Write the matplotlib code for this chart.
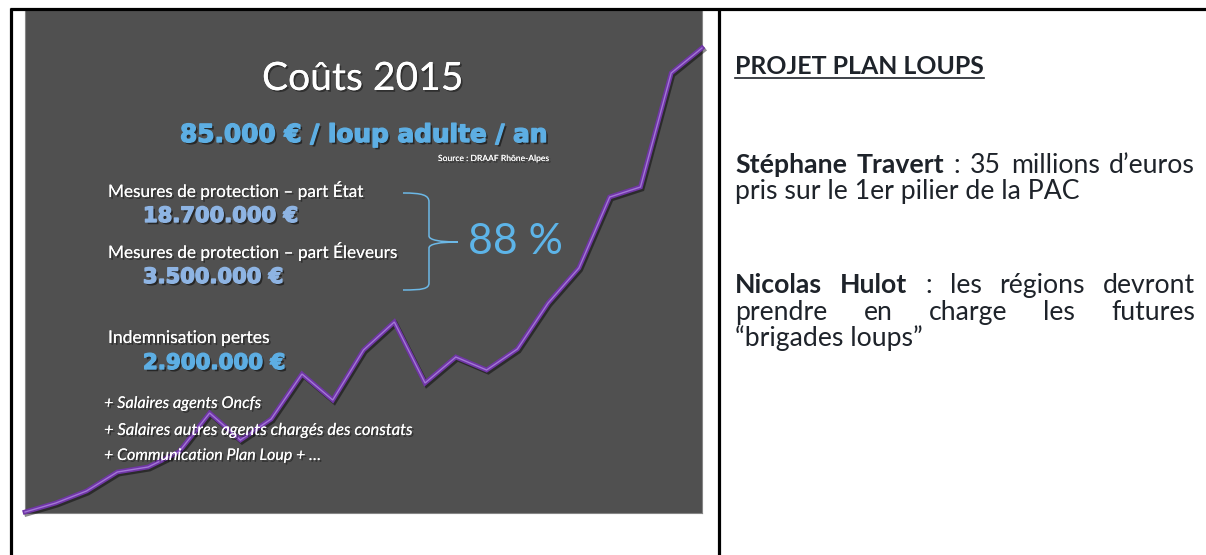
import matplotlib
matplotlib.use("Agg")
import matplotlib.pyplot as plt
import matplotlib.patheffects as pe
from matplotlib.path import Path
from matplotlib.patches import PathPatch

# ---- data ----
years = list(range(1995, 2018))
values = [1, 10, 22, 41, 46, 61, 100, 73, 94, 139, 113, 163, 191,
          130, 156, 143, 164, 210, 245, 316, 326, 440, 465]

slide_title = "Coûts 2015"
headline = "85.000 € / loup adulte / an"
source = "Source : DRAAF Rhône-Alpes"
cost_labels = ["Mesures de protection – part État",
               "Mesures de protection – part Éleveurs",
               "Indemnisation pertes"]
cost_values = ["18.700.000 €", "3.500.000 €", "2.900.000 €"]
share_text = "88 %"
extras = ["+ Salaires agents Oncfs",
          "+ Salaires autres agents chargés des constats",
          "+ Communication Plan Loup + …"]

W, H = 1206, 555
fig = plt.figure(figsize=(W / 100, H / 100), dpi=100)
fig.patch.set_facecolor("white")

# chart panel
x0, x1, ytop, ybot = 25, 702, 10, 513
ax = fig.add_axes([x0 / W, (H - ybot) / H, (x1 - x0) / W, (ybot - ytop) / H])
ax.set_facecolor("#505050")
for s in ax.spines.values():
    s.set_color("#858585")
    s.set_linewidth(0.8)
ax.set_xticks([])
ax.set_yticks([])
ax.set_xlim(years[0], years[-1])
ax.set_ylim(0, ybot - ytop)
ax.plot(years, values, color="#7036A6", lw=3.4, solid_joinstyle="miter",
        clip_on=False, zorder=3,
        path_effects=[pe.SimpleLineShadow(offset=(1.2, -1.5), shadow_color="black", alpha=0.45),
                      pe.Normal()])
ax.plot(years, values, color="#A276D6", lw=1.0, clip_on=False, zorder=4,
        solid_joinstyle="miter")

# overlay in pixel coordinates
ov = fig.add_axes([0, 0, 1, 1], zorder=10)
ov.set_xlim(0, W)
ov.set_ylim(H, 0)
ov.axis("off")
ov.patch.set_alpha(0)

# frame lines
ov.plot([10, W], [8.5, 8.5], color="black", lw=2.3, solid_capstyle="butt")
ov.plot([11, 11], [7.5, H], color="black", lw=2.3, solid_capstyle="butt")
ov.plot([719, 719], [7.5, H], color="black", lw=2.3, solid_capstyle="butt")

fig.canvas.draw()
renderer = fig.canvas.get_renderer()

shadow = [pe.withSimplePatchShadow(offset=(1.3, -1.3), shadow_rgbFace="black", alpha=0.4), pe.Normal()]


def heavy(col):
    return [pe.withSimplePatchShadow(offset=(1.6, -1.6), shadow_rgbFace="black", alpha=0.5),
            pe.withStroke(linewidth=1.0, foreground=col)]


def measure(t):
    return t.get_window_extent(renderer).width


def fit(x, y, s, width, **kw):
    t = ov.text(x, y, s, fontsize=10, va="baseline", **kw)
    t.set_fontsize(10 * width / measure(t))
    return t


# slide texts
fit(262, 90, slide_title, 202, family="Lato", color="white", path_effects=shadow)
fit(180, 142, headline, 368, family="DejaVu Sans", weight="bold", color="#5DAEE3",
    path_effects=heavy("#5DAEE3"))
fit(438, 161, source, 111, family="Lato", color="white", path_effects=shadow)

label_pos = [(108, 197, 256), (108, 258, 290), (108, 343, 162)]
value_pos = [(143, 222, 155), (143, 283, 140), (143, 369, 142)]
value_cols = ["#8EB4E3", "#8EB4E3", "#5DAEE3"]
for (lx, ly, lw_), s in zip(label_pos, cost_labels):
    fit(lx, ly, s, lw_, family="Lato", color="white", path_effects=shadow)
for (vx, vy, vw), s, c in zip(value_pos, cost_values, value_cols):
    fit(vx, vy, s, vw, family="DejaVu Sans", weight="bold", color=c, path_effects=heavy(c))

extra_pos = [(104, 408, 157), (104, 435, 308), (104, 460, 217)]
for (ex, ey, ew), s in zip(extra_pos, extras):
    fit(ex, ey, s, ew, family="Lato", style="italic", color="white", path_effects=shadow)

fit(468, 254, share_text, 94, family="Lato", weight="normal", color="#5DB4E8")

# brace
verts = [(403, 193), (422, 193), (429, 195), (429, 202),
         (429, 236),
         (429, 240), (440, 242), (458, 242),
         (440, 242), (429, 244), (429, 248),
         (429, 283),
         (429, 289), (422, 290), (403, 290)]
codes = [Path.MOVETO, Path.CURVE4, Path.CURVE4, Path.CURVE4,
         Path.LINETO,
         Path.CURVE4, Path.CURVE4, Path.CURVE4,
         Path.CURVE4, Path.CURVE4, Path.CURVE4,
         Path.LINETO,
         Path.CURVE4, Path.CURVE4, Path.CURVE4]
ov.add_patch(PathPatch(Path(verts, codes), facecolor="none", edgecolor="#6CB8E6", lw=1.1))

# right panel
txt_col = "#1E232A"
t = fit(735, 74, "PROJET PLAN LOUPS", 249, family="Lato", weight="bold", color=txt_col)
ov.plot([735, 984], [78, 78], color=txt_col, lw=1.2)

ref = fit(735, 199, "pris sur le 1er pilier de la PAC", 345, family="Lato", color=txt_col)
fs = ref.get_fontsize()


def justify(y, words, xa, xb):
    arts = []
    for w, bold in words:
        a = ov.text(0, y, w, fontsize=fs, family="Lato", va="baseline",
                    weight="bold" if bold else "normal", color=txt_col)
        arts.append(a)
    widths = [measure(a) for a in arts]
    gap = (xb - xa - sum(widths)) / (len(arts) - 1)
    x = xa
    for a, w in zip(arts, widths):
        a.set_x(x)
        x += w + gap


justify(173, [("Stéphane", True), ("Travert", True), (":", False), ("35", False),
              ("millions", False), ("d’euros", False)], 735, 1195)
justify(293, [("Nicolas", True), ("Hulot", True), (":", False), ("les", False),
              ("régions", False), ("devront", False)], 735, 1195)
justify(320, [("prendre", False), ("en", False), ("charge", False), ("les", False),
              ("futures", False)], 735, 1195)
ov.text(735, 346, "“brigades loups”", fontsize=fs, family="Lato", va="baseline", color=txt_col)

fig.savefig("out.png", dpi=100, facecolor="white")
